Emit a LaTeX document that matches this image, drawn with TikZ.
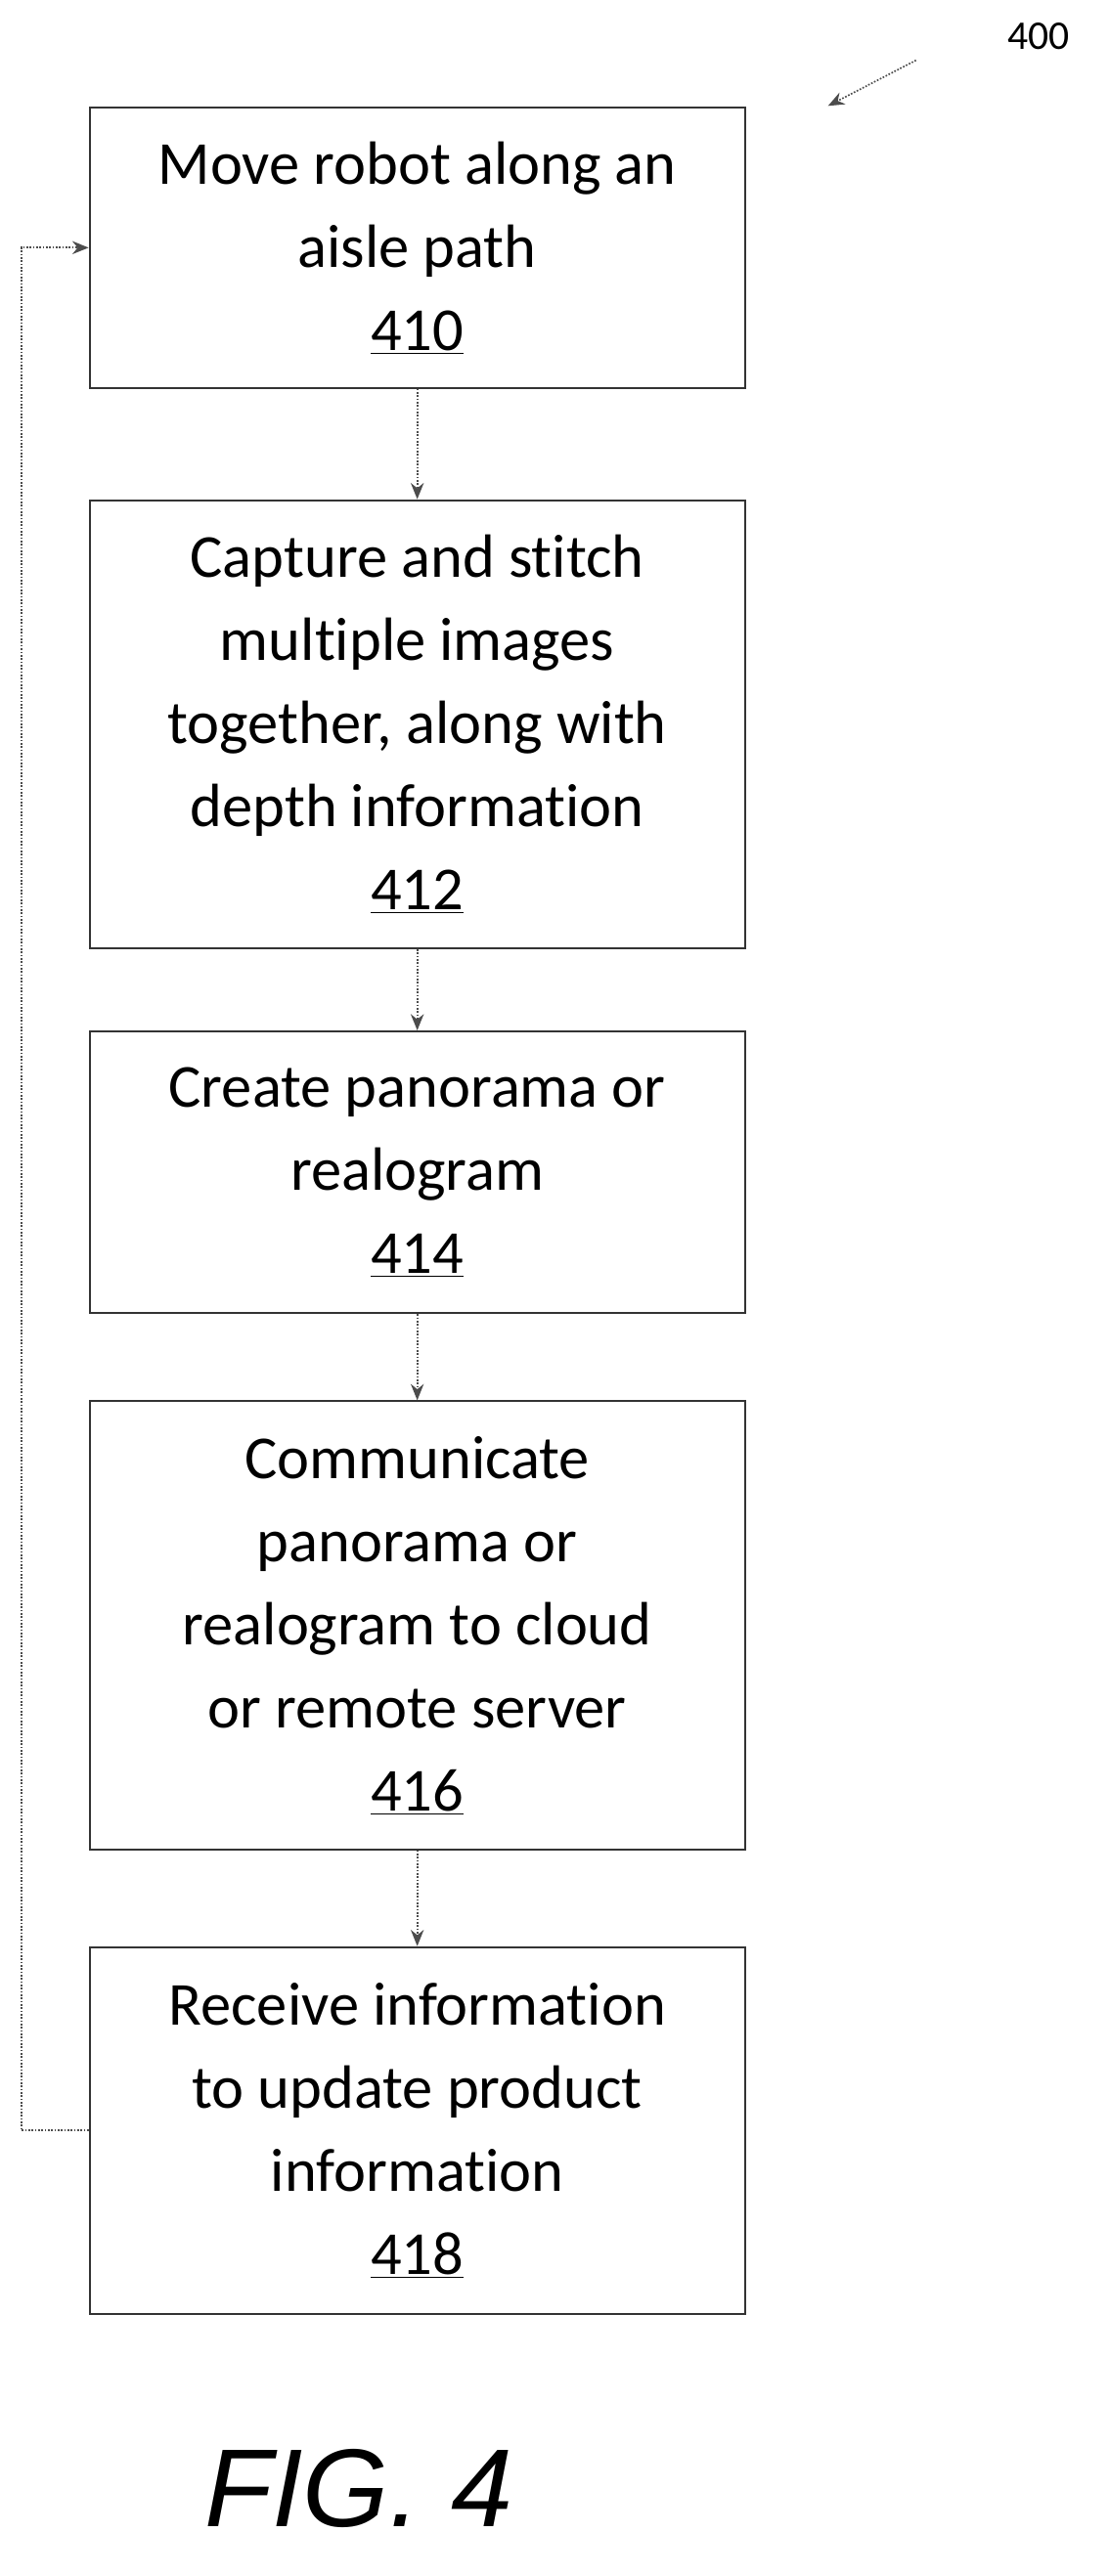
\documentclass[tikz,border=0pt]{standalone}
\usepackage{fontspec}
\setmainfont[Ligatures=NoCommon]{Carlito}
\newfontfamily\figfont{Liberation Sans}
\usetikzlibrary{arrows.meta}
\begin{document}
\begin{tikzpicture}[x=1pt,y=-1pt,
  box/.style={draw=black!80,line width=1.2pt,minimum width=402pt,align=center,
    font=\fontsize{37.5}{51}\selectfont,inner sep=0pt},
  con/.style={draw=black!70,line width=1pt,densely dotted,-{Stealth[length=10pt,width=8pt]}}]
\useasboundingbox (0,0) rectangle (680,1581);
\node[box,minimum height=172pt] (b1) at (256,152) {Move robot along an\\aisle path\\\underline{410}};
\node[box,minimum height=275pt] (b2) at (256,444.5) {Capture and stitch\\multiple images\\together, along with\\depth information\\\underline{412}};
\node[box,minimum height=173pt] (b3) at (256,719.5) {Create panorama or\\realogram\\\underline{414}};
\node[box,minimum height=275pt] (b4) at (256,997.5) {Communicate\\panorama or\\realogram to cloud\\or remote server\\\underline{416}};
\node[box,minimum height=225pt] (b5) at (256,1307.5) {Receive information\\to update product\\information\\\underline{418}};
\draw[con] (b1) -- (b2);
\draw[con] (b2) -- (b3);
\draw[con] (b3) -- (b4);
\draw[con] (b4) -- (b5);
\coordinate (l1) at (13,1307.5);
\coordinate (l2) at (13,152);
\draw[con] (b5.west) -- (l1) -- (l2) -- (b1.west);
\node[font=\fontsize{25}{28}\selectfont] (n400) at (637,22) {400};
\coordinate (a0) at (562,37);
\coordinate (a1) at (508,65);
\draw[con] (a0) -- (a1);
\node[font=\fontsize{68}{80}\selectfont\figfont\itshape] (fig) at (220,1527) {FIG. 4};
\end{tikzpicture}
\end{document}
